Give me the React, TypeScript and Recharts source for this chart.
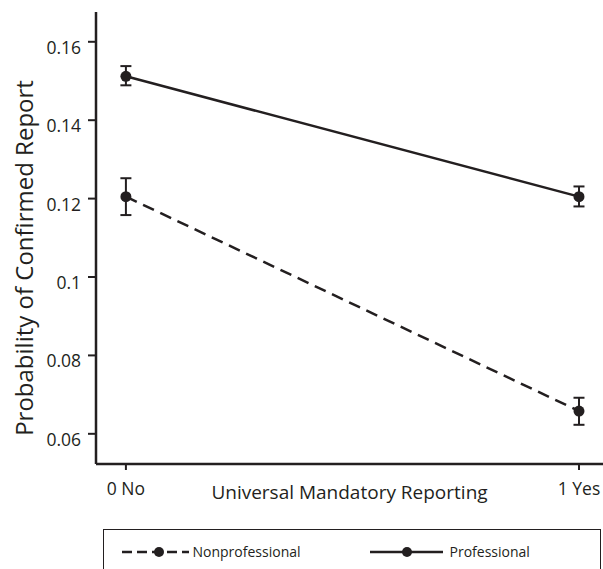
import { LineChart, Line, XAxis, YAxis, ErrorBar } from 'recharts';

// x positions and their tick labels
const xValues = [0, 1];
const xTickLabels = ['0 No', '1 Yes'];
const yTicks = [0.06, 0.08, 0.1, 0.12, 0.14, 0.16];

// probability estimates with confidence bounds
const professional = [0.1512, 0.1205];
const professionalLow = [0.1489, 0.118];
const professionalHigh = [0.1538, 0.1231];

const nonprofessional = [0.1205, 0.0658];
const nonprofessionalLow = [0.1158, 0.0623];
const nonprofessionalHigh = [0.1252, 0.0692];

const seriesNames = ['Nonprofessional', 'Professional'];

const INK = '#231f20';
const FONT = '"Open Sans", sans-serif';

const build = (vals: number[], lo: number[], hi: number[]) =>
  xValues.map((x, i) => ({ x, y: vals[i], err: [vals[i] - lo[i], hi[i] - vals[i]] }));

const proData = build(professional, professionalLow, professionalHigh);
const nonData = build(nonprofessional, nonprofessionalLow, nonprofessionalHigh);

function YTick({ x, y, payload }: any) {
  return (
    <text x={x} y={y + 12} textAnchor="end" fill={INK} fontSize={17.5} fontFamily={FONT}>
      {String(Number(payload.value.toFixed(2)))}
    </text>
  );
}

function YLabel() {
  return (
    <text
      transform="translate(23,258) rotate(-90)"
      textAnchor="middle"
      dominantBaseline="central"
      fill={INK}
      fontSize={24}
      fontFamily={FONT}
    >
      Probability of Confirmed Report
    </text>
  );
}

function LegendIcon({ dashed, w }: { dashed: boolean; w: number }) {
  return (
    <svg width={w} height={12} style={{ display: 'block' }}>
      <line
        x1={0}
        x2={w}
        y1={6}
        y2={6}
        stroke={INK}
        strokeWidth={2.5}
        strokeDasharray={dashed ? '10 5' : undefined}
      />
      <circle cx={37} cy={6} r={5} fill={INK} />
    </svg>
  );
}

export default function App() {
  return (
    <div
      style={{
        position: 'absolute',
        left: 0,
        top: 0,
        width: 603,
        height: 569,
        overflow: 'hidden',
        background: '#fff',
        fontFamily: FONT,
      }}
    >
      <LineChart width={603} height={569} margin={{ top: 12, right: 0, left: 0, bottom: 85 }}>
        <XAxis
          type="number"
          dataKey="x"
          domain={[-0.066, 1.053]}
          ticks={xValues}
          allowDataOverflow
          height={20}
          tickFormatter={(v) => xTickLabels[xValues.indexOf(v)] ?? ''}
          tickSize={6}
          tickMargin={13}
          axisLine={{ stroke: INK, strokeWidth: 2.5 }}
          tickLine={{ stroke: INK, strokeWidth: 2 }}
          tick={{ fill: INK, fontSize: 17.5, fontFamily: FONT }}
          label={{
            value: 'Universal Mandatory Reporting',
            position: 'bottom',
            offset: 2,
            fill: INK,
            fontSize: 19,
            fontFamily: FONT,
          }}
        />
        <YAxis
          type="number"
          domain={[0.0523, 0.1676]}
          ticks={yTicks}
          allowDataOverflow
          width={96}
          tickSize={8}
          tickMargin={7}
          axisLine={{ stroke: INK, strokeWidth: 2.5 }}
          tickLine={{ stroke: INK, strokeWidth: 2 }}
          tick={<YTick />}
          label={<YLabel />}
        />
        <Line
          data={nonData}
          dataKey="y"
          name={seriesNames[0]}
          stroke={INK}
          strokeWidth={2.5}
          strokeDasharray="12 7"
          dot={{ r: 5.5, fill: INK, stroke: INK, strokeWidth: 0 }}
          isAnimationActive={false}
        >
          <ErrorBar dataKey="err" width={5.5} stroke={INK} strokeWidth={2} direction="y" />
        </Line>
        <Line
          data={proData}
          dataKey="y"
          name={seriesNames[1]}
          stroke={INK}
          strokeWidth={2.5}
          dot={{ r: 5.5, fill: INK, stroke: INK, strokeWidth: 0 }}
          isAnimationActive={false}
        >
          <ErrorBar dataKey="err" width={5.5} stroke={INK} strokeWidth={2} direction="y" />
        </Line>
      </LineChart>
      <div
        style={{
          position: 'absolute',
          left: 103,
          top: 529,
          width: 496,
          height: 60,
          border: `1.5px solid ${INK}`,
          fontSize: 14,
          color: INK,
        }}
      >
        {seriesNames.map((name, i) => (
          <div
            key={name}
            style={{
              position: 'absolute',
              left: i === 0 ? 17.5 : 265.5,
              top: 12,
              display: 'flex',
              alignItems: 'center',
              gap: i === 0 ? 4 : 7,
            }}
          >
            <LegendIcon dashed={i === 0} w={i === 0 ? 67 : 73} />
            <span>{name}</span>
          </div>
        ))}
      </div>
    </div>
  );
}
